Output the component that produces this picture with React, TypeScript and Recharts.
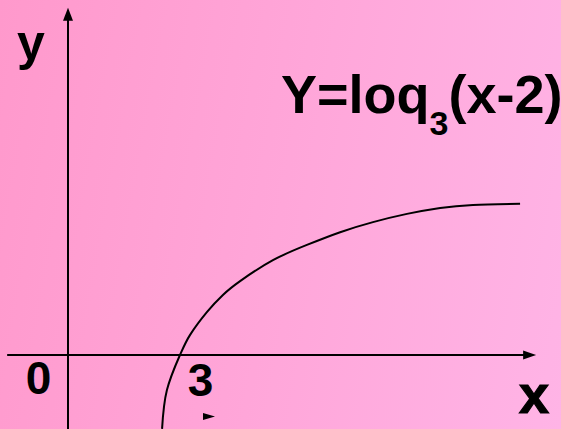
import { LineChart, Line, XAxis, YAxis, ReferenceLine, Customized } from "recharts";

// curve y = log3(x - 2), as drawn on the slide
const curveX = [2.52, 2.65, 3.0, 3.27, 3.72, 4.15, 4.61, 5.49, 6.4, 7.29, 8.17, 9.08, 9.97, 10.85, 12.11];
const curveY = [-1.98, -0.94, 0, 0.54, 1.15, 1.61, 1.98, 2.54, 2.95, 3.29, 3.56, 3.78, 3.94, 4.02, 4.05];

const curveData = curveX.map((x, i) => ({ x, y: curveY[i] }));

const title = "Y=loq";
const titleSub = "3";
const titleTail = "(x-2)";
const xLabel = "x";
const yLabel = "y";
const originLabel = "0";
const tickLabel = "3";

const W = 561;
const H = 429;

const arrowLine = (dir: "x" | "y") => (props: any) => {
  const { x1, y1, x2, y2 } = props;
  let head = "";
  if (dir === "x") {
    head = `${x2},${y2} ${x2 - 13},${y2 - 4.5} ${x2 - 13},${y2 + 4.5}`;
  } else {
    head = `${x2},${y2} ${x2 - 5},${y2 + 13} ${x2 + 5},${y2 + 13}`;
  }
  return (
    <g>
      <line x1={x1} y1={y1} x2={dir === "x" ? x2 - 8 : x2} y2={dir === "y" ? y2 + 8 : y2} stroke="#000" strokeWidth={2} />
      <polygon points={head} fill="#000" />
    </g>
  );
};

const Labels = () => {
  const font = "'Liberation Sans', Arial, sans-serif";
  return (
    <g fontFamily={font} fontWeight="bold" fill="#000">
      <text x={31} y={60} fontSize={50} textAnchor="middle">{yLabel}</text>
      <text x={38.5} y={394} fontSize={46} textAnchor="middle">{originLabel}</text>
      <text x={200.5} y={396} fontSize={46} textAnchor="middle">{tickLabel}</text>
      <text x={534} y={413} fontSize={54} textAnchor="middle" stroke="#000" strokeWidth={1.2}>{xLabel}</text>
      <polygon points="203,413 215,416.5 203,420" fill="#000" />
      <text x={281} y={113} fontSize={54}>
        {title}
        <tspan dy={22} fontSize={34}>{titleSub}</tspan>
        <tspan dy={-22} fontSize={54}>{titleTail}</tspan>
      </text>
    </g>
  );
};

export default function App() {
  return (
    <div
      style={{
        position: "fixed",
        left: 0,
        top: 0,
        width: W,
        height: H,
        background: "linear-gradient(100deg, #ff99cc 0%, #ffa6d9 50%, #ffb4e6 100%)",
      }}
    >
      <LineChart width={W} height={H} data={curveData} margin={{ top: 0, right: 0, bottom: 0, left: 0 }}>
        <XAxis type="number" dataKey="x" domain={[-1.8216, 13.2066]} allowDataOverflow hide />
        <YAxis type="number" dataKey="y" domain={[-1.9823, 9.5098]} allowDataOverflow hide />
        <ReferenceLine
          segment={[{ x: -1.63, y: 0 }, { x: 12.54, y: 0 }]}
          shape={arrowLine("x")}
          ifOverflow="visible"
        />
        <ReferenceLine
          segment={[{ x: 0, y: -1.9823 }, { x: 0, y: 9.3 }]}
          shape={arrowLine("y")}
          ifOverflow="visible"
        />
        <Line
          type="natural"
          dataKey="y"
          stroke="#000"
          strokeWidth={2}
          dot={false}
          activeDot={false}
          isAnimationActive={false}
        />
        <Customized component={<Labels />} />
      </LineChart>
    </div>
  );
}
